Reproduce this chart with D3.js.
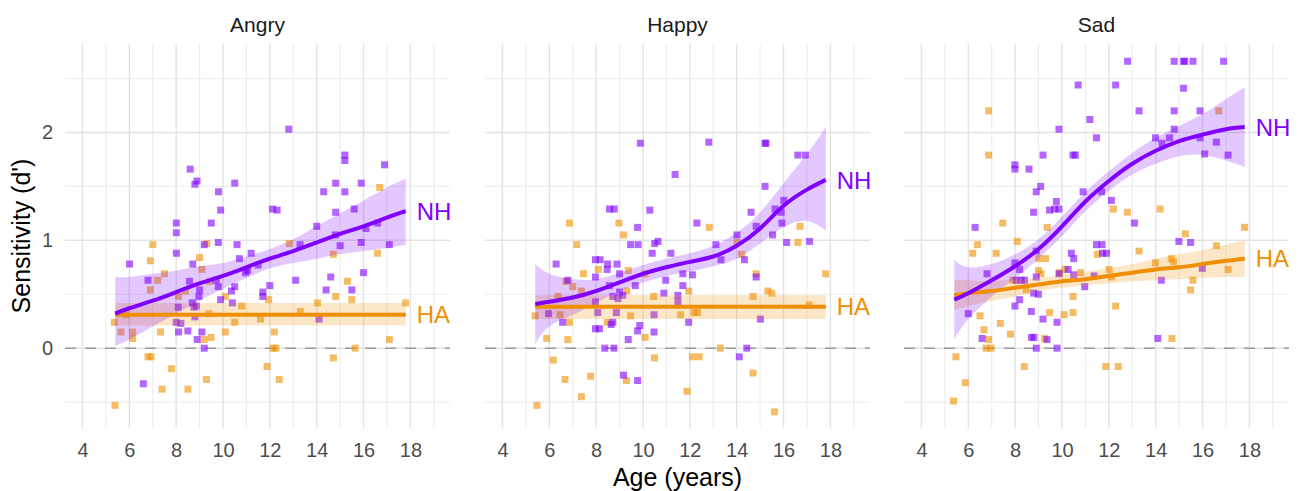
<!DOCTYPE html>
<html>
<head>
<meta charset="utf-8">
<script src="https://cdn.jsdelivr.net/npm/d3@7"></script>
<style>
body { margin: 0; background: #fff; }
text { font-family: "Liberation Sans", Arial, sans-serif; }
</style>
</head>
<body>
<svg width="1299" height="491"></svg>
<script>
// facets and axis breaks
var panelNames = ["Angry", "Happy", "Sad"];
var xTicks = [4, 6, 8, 10, 12, 14, 16, 18];
var xMinor = [5, 7, 9, 11, 13, 15, 17, 19];
var yTicks = [0, 1, 2];
var yMinor = [-0.5, 0.5, 1.5, 2.5];

// raw points [age, d']
var angryNH = [[8.6,1.66],[8.89,1.55],[8.8,1.52],[10.5,1.53],[9.81,1.45],[9.9,1.28],[9.5,1.16],[8.01,1.16],[8.01,1.07],
  [9.8,0.98],[9.2,0.96],[10.6,0.96],[8.01,0.88],[6.01,0.78],[8.71,0.78],[11.2,0.88],[10.96,0.70],[11.05,0.72],[10.7,0.83],
  [11.5,0.77],[6.8,0.63],[8.57,0.62],[9.0,0.54],[9.71,0.63],[9.8,0.57],[10.5,0.57],[10.36,0.53],[8.97,0.48],[8.69,0.42],
  [8.86,0.39],[8.76,0.38],[8.09,0.38],[9.9,0.45],[10.4,0.42],[8.8,0.29],[8.0,0.24],[8.2,0.23],[8.1,0.15],[8.5,0.16],
  [9.1,0.15],[8.9,0.08],[9.2,0.0],[6.6,-0.33],[11.7,0.52],[11.7,0.48],
  [12.81,2.03],[15.2,1.79],[15.2,1.74],[16.9,1.70],[14.81,1.53],[15.9,1.53],[14.3,1.45],[15.2,1.45],[12.11,1.29],
  [12.31,1.28],[15.6,1.29],[14.81,1.26],[14.0,1.13],[16.1,1.11],[16.6,1.16],[14.8,1.05],[15.9,0.98],[17.1,0.96],
  [15.0,0.95],[13.29,0.96],[16.0,0.70],[14.6,0.66],[13.1,0.63],[12.0,0.58],[14.4,0.54],[15.5,0.54],[14.1,0.27]];
var angryHA = [[7.0,0.96],[6.9,0.81],[9.0,0.84],[9.31,0.97],[7.5,0.69],[7.21,0.63],[6.9,0.54],[8.4,0.53],[9.1,0.73],
  [9.43,0.62],[8.1,0.48],[10.1,0.48],[5.86,0.31],[5.36,0.24],[5.64,0.15],[6.14,0.15],[6.14,0.09],[7.33,0.15],[9.2,0.08],
  [9.49,0.10],[10.1,0.15],[10.5,0.24],[10.8,0.39],[6.8,-0.08],[6.93,-0.08],[7.8,-0.19],[7.4,-0.38],[8.5,-0.38],
  [9.29,-0.29],[5.39,-0.53],[11.88,-0.17],[9.4,0.32],[11.6,0.27],[11.95,0.45],
  [16.69,1.49],[12.83,0.97],[14.71,0.87],[16.6,0.88],[15.31,0.62],[14.81,0.48],[14.03,0.42],[15.5,0.45],[17.8,0.42],
  [13.3,0.34],[12.19,0.15],[12.14,0.0],[12.26,0.0],[15.64,0.0],[17.1,0.08],[14.71,-0.09],[12.4,-0.29]];
var happyNH = [[9.89,1.90],[11.37,1.61],[8.57,1.29],[8.77,1.29],[10.29,1.28],[9.77,1.12],[9.47,0.96],[9.79,0.96],
  [10.5,0.97],[10.64,0.99],[10.39,0.88],[11.19,0.88],[6.29,0.78],[7.97,0.82],[8.17,0.82],[8.49,0.78],[8.89,0.78],
  [8.47,0.73],[7.97,0.66],[9.0,0.69],[6.79,0.63],[8.57,0.58],[9.67,0.58],[10.97,0.63],[11.7,0.69],[11.7,0.58],
  [9.0,0.52],[9.14,0.49],[8.71,0.48],[8.93,0.46],[10.89,0.51],[11.49,0.49],[11.49,0.43],[7.97,0.43],[5.97,0.32],
  [8.07,0.33],[8.86,0.33],[10.47,0.31],[6.57,0.24],[8.71,0.24],[8.64,0.22],[11.95,0.24],[9.86,0.21],[9.77,0.16],
  [7.97,0.18],[8.14,0.18],[10.47,0.15],[9.37,0.08],[8.37,0.0],[8.76,0.0],[9.17,-0.25],[9.77,-0.30],
  [12.81,1.91],[15.21,1.90],[15.25,1.90],[16.61,1.79],[16.93,1.79],[15.21,1.50],[16.01,1.37],[15.64,1.29],[15.9,1.26],
  [14.61,1.26],[12.3,1.16],[14.83,1.13],[15.93,1.16],[14.01,1.05],[15.53,1.05],[13.11,0.96],[16.13,0.98],[17.11,0.99],
  [13.33,0.82],[14.33,0.82],[14.83,0.66],[12.11,0.68],[15.01,0.27],[14.43,0.0],[14.11,-0.08]];
var happyHA = [[6.86,1.16],[8.97,1.16],[9.17,1.05],[7.17,0.96],[7.46,0.69],[6.71,0.62],[7.0,0.57],[7.37,0.53],
  [8.09,0.73],[9.37,0.72],[10.09,0.69],[9.31,0.53],[6.37,0.48],[10.46,0.48],[11.95,0.53],[5.39,0.30],[6.46,0.31],
  [6.86,0.24],[8.47,0.24],[9.47,0.30],[11.6,0.31],[5.89,0.09],[6.79,0.08],[10.09,0.10],[6.17,-0.11],[10.49,-0.09],
  [6.67,-0.29],[7.77,-0.26],[9.29,-0.30],[7.37,-0.45],[5.47,-0.53],[11.88,-0.40],
  [12.83,1.12],[16.7,1.13],[16.61,0.98],[14.01,0.98],[14.21,0.87],[14.83,0.69],[17.8,0.69],[15.33,0.53],[15.5,0.51],
  [14.7,0.48],[12.19,0.33],[12.33,0.33],[17.1,0.40],[13.3,0.0],[12.11,-0.08],[12.4,-0.08],[14.7,-0.23],[15.61,-0.59]];
var sadNH = [[10.69,2.44],[11.19,2.12],[9.87,2.03],[11.47,1.95],[9.19,1.79],[10.47,1.79],[10.57,1.79],[7.99,1.70],
  [7.99,1.66],[8.59,1.66],[9.09,1.50],[8.9,1.45],[9.76,1.36],[9.47,1.28],[9.69,1.29],[9.87,1.29],[10.9,1.45],[11.69,1.45],
  [8.79,1.26],[6.29,1.12],[11.47,0.96],[11.71,0.96],[10.4,0.88],[10.5,0.83],[11.73,0.88],[11.9,0.88],[8.9,0.90],
  [7.99,0.79],[8.19,0.73],[6.8,0.69],[8.04,0.63],[8.26,0.63],[8.4,0.63],[8.9,0.66],[9.87,0.69],[10.26,0.73],[10.5,0.68],
  [10.97,0.57],[8.79,0.51],[8.99,0.50],[8.19,0.45],[7.99,0.39],[6.0,0.32],[8.69,0.34],[9.19,0.27],[9.79,0.24],
  [6.59,0.09],[8.7,0.10],[8.8,0.10],[9.36,0.08],[8.9,0.0],[9.79,0.0],[11.37,0.67],
  [12.8,2.66],[14.79,2.66],[15.19,2.66],[15.24,2.66],[15.59,2.66],[16.9,2.66],[12.29,2.44],[15.19,2.41],[13.29,2.20],
  [14.79,2.20],[15.89,2.20],[14.79,2.03],[13.99,1.95],[14.27,1.90],[14.59,1.95],[15.89,1.95],[16.59,1.91],[16.09,1.80],
  [17.09,1.79],[12.11,1.37],[13.09,1.16],[14.99,0.99],[15.49,0.98],[15.99,0.74],[14.24,0.63],[14.09,0.09]];
var sadHA = [[6.87,2.20],[6.87,1.79],[7.47,1.16],[9.37,1.12],[6.39,0.96],[6.19,0.88],[7.19,0.88],[8.09,0.99],
  [9.01,0.83],[9.3,0.83],[9.0,0.72],[9.1,0.69],[9.9,0.70],[10.13,0.73],[10.79,0.70],[11.51,0.87],[7.9,0.63],[8.47,0.54],
  [10.47,0.48],[6.5,0.30],[7.37,0.23],[6.67,0.17],[7.8,0.13],[6.87,0.08],[9.47,0.33],[10.09,0.31],[10.47,0.33],
  [9.26,0.09],[6.76,0.0],[6.97,0.0],[5.47,-0.08],[5.87,-0.32],[5.37,-0.49],[8.39,-0.17],[11.87,-0.17],
  [12.19,1.29],[12.79,1.26],[14.19,1.29],[17.79,1.12],[15.27,1.06],[16.59,0.95],[13.29,0.90],[14.66,0.83],[14.76,0.80],
  [13.99,0.79],[12.01,0.73],[12.11,0.66],[15.59,0.63],[17.09,0.73],[15.49,0.54],[12.29,0.39],[14.69,0.09],[12.4,-0.17],
  [16.69,2.20]];

// smoothed fits, read at these ages
var fitAges = [5.4, 6, 7, 8, 9, 10, 11, 12, 13, 14, 15, 16, 17, 17.8];
var angryNHFit = [0.32,0.37,0.44,0.52,0.60,0.67,0.75,0.83,0.90,0.98,1.06,1.13,1.21,1.27];
var angryNHLo  = [0.02,0.08,0.20,0.32,0.44,0.55,0.65,0.74,0.79,0.83,0.87,0.90,0.93,0.96];
var angryNHHi  = [0.66,0.66,0.69,0.72,0.76,0.79,0.85,0.92,1.01,1.13,1.25,1.37,1.49,1.57];
var angryHAFit = [0.31,0.31,0.31,0.31,0.31,0.31,0.31,0.31,0.31,0.31,0.31,0.31,0.31,0.31];
var angryHALo  = [0.21,0.21,0.21,0.21,0.21,0.21,0.21,0.21,0.21,0.21,0.21,0.21,0.21,0.21];
var angryHAHi  = [0.42,0.42,0.42,0.42,0.42,0.42,0.42,0.42,0.42,0.42,0.42,0.42,0.42,0.42];
var happyNHFit = [0.41,0.43,0.47,0.53,0.61,0.69,0.75,0.80,0.85,0.95,1.11,1.32,1.47,1.56];
var happyNHLo  = [0.04,0.20,0.31,0.42,0.53,0.61,0.67,0.71,0.76,0.83,0.97,1.12,1.18,1.09];
var happyNHHi  = [0.78,0.69,0.64,0.64,0.70,0.77,0.83,0.88,0.95,1.07,1.26,1.53,1.80,2.05];
var happyHAFit = [0.385,0.385,0.385,0.385,0.385,0.385,0.385,0.385,0.385,0.385,0.385,0.385,0.385,0.385];
var happyHALo  = [0.27,0.27,0.27,0.27,0.27,0.27,0.27,0.27,0.27,0.27,0.27,0.27,0.27,0.27];
var happyHAHi  = [0.49,0.49,0.49,0.49,0.49,0.49,0.49,0.49,0.49,0.49,0.49,0.49,0.49,0.49];
var sadNHFit = [0.45,0.51,0.63,0.76,0.92,1.13,1.36,1.55,1.71,1.83,1.92,1.98,2.03,2.05];
var sadNHLo  = [0.08,0.27,0.48,0.65,0.83,1.04,1.27,1.46,1.61,1.71,1.78,1.79,1.74,1.68];
var sadNHHi  = [0.82,0.75,0.78,0.87,1.01,1.22,1.45,1.64,1.81,1.95,2.06,2.17,2.31,2.42];
var sadHAFit = [0.49,0.51,0.53,0.56,0.59,0.62,0.64,0.67,0.70,0.73,0.75,0.78,0.81,0.83];
var sadHALo  = [0.35,0.39,0.44,0.48,0.53,0.56,0.58,0.60,0.62,0.63,0.64,0.65,0.66,0.66];
var sadHAHi  = [0.63,0.63,0.62,0.64,0.65,0.68,0.71,0.74,0.78,0.83,0.87,0.91,0.96,1.00];

var nhColor = "#7F00FF";
var haColor = "#EF8F00";

var panels = [
  {name: panelNames[0], nh: angryNH, ha: angryHA, nhFit: angryNHFit, nhLo: angryNHLo, nhHi: angryNHHi,
   haFit: angryHAFit, haLo: angryHALo, haHi: angryHAHi},
  {name: panelNames[1], nh: happyNH, ha: happyHA, nhFit: happyNHFit, nhLo: happyNHLo, nhHi: happyNHHi,
   haFit: happyHAFit, haLo: happyHALo, haHi: happyHAHi},
  {name: panelNames[2], nh: sadNH, ha: sadHA, nhFit: sadNHFit, nhLo: sadNHLo, nhHi: sadNHHi,
   haFit: sadHAFit, haLo: sadHALo, haHi: sadHAHi}
];

var svg = d3.select("svg");
var panelLeft = [65, 485, 904];
var panelTop = 44;
var width = 385;
var height = 384;

var xScale = d3.scaleLinear().domain([3.255, 19.69]).range([0, width]);
var yScale = d3.scaleLinear().domain([-0.74, 2.82]).range([height, 0]);

function band(fit, lo, hi) {
  return fitAges.map(function(a, i) { return {age: a, fit: fit[i], lo: lo[i], hi: hi[i]}; });
}

var area = d3.area()
  .x(function(d) { return xScale(d.age); })
  .y0(function(d) { return yScale(d.lo); })
  .y1(function(d) { return yScale(d.hi); })
  .curve(d3.curveNatural);

var line = d3.line()
  .x(function(d) { return xScale(d.age); })
  .y(function(d) { return yScale(d.fit); })
  .curve(d3.curveNatural);

panels.forEach(function(p, pi) {
  var g = svg.append("g").attr("transform", "translate(" + panelLeft[pi] + "," + panelTop + ")");

  // grid
  g.selectAll(".xminor").data(xMinor).enter().append("line")
    .attr("x1", function(d) { return xScale(d); }).attr("x2", function(d) { return xScale(d); })
    .attr("y1", 0).attr("y2", height)
    .attr("stroke", "#EDEDED").attr("stroke-width", 1.1);
  g.selectAll(".yminor").data(yMinor).enter().append("line")
    .attr("x1", 0).attr("x2", width)
    .attr("y1", function(d) { return yScale(d); }).attr("y2", function(d) { return yScale(d); })
    .attr("stroke", "#EDEDED").attr("stroke-width", 1.1);
  g.selectAll(".xmajor").data(xTicks).enter().append("line")
    .attr("x1", function(d) { return xScale(d); }).attr("x2", function(d) { return xScale(d); })
    .attr("y1", 0).attr("y2", height)
    .attr("stroke", "#E3E3E3").attr("stroke-width", 1.4);
  g.selectAll(".ymajor").data(yTicks).enter().append("line")
    .attr("x1", 0).attr("x2", width)
    .attr("y1", function(d) { return yScale(d); }).attr("y2", function(d) { return yScale(d); })
    .attr("stroke", "#E3E3E3").attr("stroke-width", 1.4);

  // zero reference
  g.append("line")
    .attr("x1", 0).attr("x2", width)
    .attr("y1", yScale(0)).attr("y2", yScale(0))
    .attr("stroke", "#9A9A9A").attr("stroke-width", 1.5)
    .attr("stroke-dasharray", "11,9");

  // points
  [[p.ha, haColor], [p.nh, nhColor]].forEach(function(s) {
    g.selectAll(null).data(s[0]).enter().append("rect")
      .attr("x", function(d) { return xScale(d[0]) - 3.5; })
      .attr("y", function(d) { return yScale(d[1]) - 3.5; })
      .attr("width", 7).attr("height", 7)
      .attr("fill", s[1]).attr("fill-opacity", 0.6);
  });

  var nhBand = band(p.nhFit, p.nhLo, p.nhHi);
  var haBand = band(p.haFit, p.haLo, p.haHi);

  g.append("path").datum(haBand).attr("d", area).attr("fill", haColor).attr("fill-opacity", 0.22);
  g.append("path").datum(nhBand).attr("d", area).attr("fill", nhColor).attr("fill-opacity", 0.22);
  g.append("path").datum(haBand).attr("d", line).attr("fill", "none")
    .attr("stroke", haColor).attr("stroke-width", 4);
  g.append("path").datum(nhBand).attr("d", line).attr("fill", "none")
    .attr("stroke", nhColor).attr("stroke-width", 4);

  // end labels
  var nhEnd = nhBand[nhBand.length - 1];
  var haEnd = haBand[haBand.length - 1];
  g.append("text").attr("x", xScale(nhEnd.age) + 11).attr("y", yScale(nhEnd.fit))
    .attr("dy", "0.36em").attr("font-size", 24).attr("fill", nhColor).text("NH");
  g.append("text").attr("x", xScale(haEnd.age) + 11).attr("y", yScale(haEnd.fit))
    .attr("dy", "0.36em").attr("font-size", 24).attr("fill", haColor).text("HA");

  // facet title
  g.append("text").attr("x", width / 2).attr("y", -12)
    .attr("text-anchor", "middle").attr("font-size", 21).attr("fill", "#1A1A1A")
    .text(p.name);

  // x axis
  var xAxis = g.append("g").attr("transform", "translate(0," + height + ")")
    .call(d3.axisBottom(xScale).tickValues(xTicks).tickSize(0).tickPadding(15));
  xAxis.select(".domain").remove();
  xAxis.selectAll("text").attr("font-size", 20).attr("fill", "#4D4D4D")
    .style("font-family", '"Liberation Sans", Arial, sans-serif');

  if (pi === 0) {
    var yAxis = g.append("g")
      .call(d3.axisLeft(yScale).tickValues(yTicks).tickFormat(d3.format("d")).tickSize(0).tickPadding(12));
    yAxis.select(".domain").remove();
    yAxis.selectAll("text").attr("font-size", 20).attr("fill", "#4D4D4D")
      .style("font-family", '"Liberation Sans", Arial, sans-serif');
  }
});

// axis titles
svg.append("text")
  .attr("transform", "translate(30," + (panelTop + height / 2) + ") rotate(-90)")
  .attr("text-anchor", "middle").attr("font-size", 25).attr("fill", "#000")
  .text("Sensitivity (d')");

svg.append("text")
  .attr("x", panelLeft[1] + width / 2).attr("y", 486)
  .attr("text-anchor", "middle").attr("font-size", 25).attr("fill", "#000")
  .text("Age (years)");
</script>
</body>
</html>
